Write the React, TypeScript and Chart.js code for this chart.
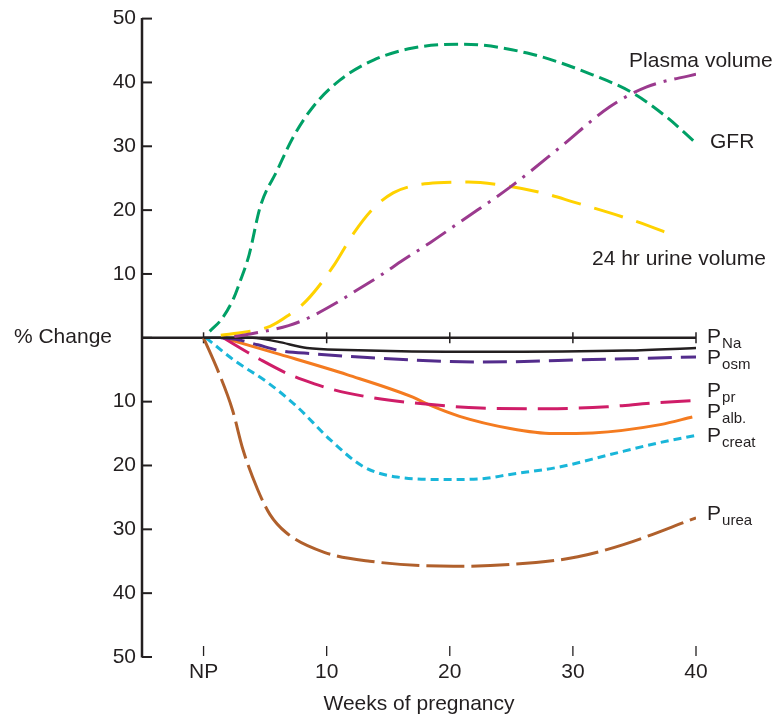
import React, { useEffect, useRef } from 'react';
import { Chart, registerables } from 'chart.js';

Chart.register(...registerables);

// ---- axis ticks ----
const xTickValues = [0, 10, 20, 30, 40];
const xTickLabels = ['NP', '10', '20', '30', '40'];
const yTickValues = [-50, -40, -30, -20, -10, 0, 10, 20, 30, 40, 50];

// ---- series (weeks of pregnancy, % change) ----
const gfrWeeks = [0.5, 1.5, 2.4, 3.0, 3.7, 4.6, 6.0, 7.3, 8.9, 11.1, 13.8, 17.0, 21.0, 26.3, 31.6, 34.9, 37.6, 40];
const gfrValues = [1, 3, 6, 9, 13, 20.5, 26.3, 31.5, 36.2, 40.4, 43.5, 45.4, 46.0, 44.6, 41.2, 38.3, 34.6, 30.5];

const plasmaWeeks = [2.5, 3.8, 6.9, 8.5, 10.9, 12.4, 14.4, 16.0, 18.4, 21.1, 24.9, 29.0, 33.0, 36.0, 40];
const plasmaValues = [0.2, 0.6, 1.9, 3.1, 5.6, 7.4, 9.8, 11.9, 14.9, 18.5, 23.6, 29.9, 36.2, 39.3, 41.3];

const urineWeeks = [1.4, 3.4, 5.4, 6.8, 8.4, 10.5, 12.2, 13.8, 15.4, 17.0, 19.0, 21.5, 24.3, 27.3, 30.0, 35.2, 38.1];
const urineValues = [0.4, 0.9, 1.8, 3.4, 5.9, 11.1, 16.4, 20.3, 22.7, 23.8, 24.3, 24.4, 23.9, 22.8, 21.3, 18.2, 16.1];

const naWeeks = [0, 4.0, 6.0, 8.4, 11.7, 22.5, 34.4, 40];
const naValues = [0, 0, -0.6, -1.6, -1.9, -2.2, -2.0, -1.6];

const osmWeeks = [1.4, 2.8, 4.4, 6.2, 8.9, 13.3, 22.5, 31.6, 40];
const osmValues = [0, -0.3, -1.1, -2.0, -2.5, -3.1, -3.8, -3.4, -3.0];

const prWeeks = [1.6, 3.6, 4.6, 6.8, 8.1, 10.5, 13.8, 17.6, 22.5, 27.9, 32.8, 36.5, 40];
const prValues = [0, -2.3, -3.4, -5.6, -6.6, -8.1, -9.4, -10.3, -11.0, -11.1, -10.8, -10.2, -9.8];

const albWeeks = [1.6, 6.2, 11.7, 17.0, 18.2, 20.8, 24.9, 28.4, 31.6, 37.1, 39.7];
const albValues = [0, -2.6, -5.8, -9.3, -10.4, -12.3, -14.2, -15.0, -14.9, -13.6, -12.4];

const creatWeeks = [0.2, 2.4, 5.2, 7.6, 10.3, 13.0, 15.7, 19.8, 22.5, 24.9, 29.0, 33.0, 37.1, 40];
const creatValues = [0, -3.4, -7.0, -10.8, -16.0, -20.2, -21.8, -22.2, -22.1, -21.4, -20.2, -18.3, -16.4, -15.3];

const ureaWeeks = [0, 1.2, 2.35, 3.2, 4.4, 5.4, 6.7, 9.8, 13.5, 20.3, 27.0, 30.4, 34.1, 40];
const ureaValues = [0, -5.3, -11.3, -17.5, -23.8, -27.7, -30.5, -33.6, -35.0, -35.8, -35.2, -34.3, -32.4, -28.2];

const FONT = '"Liberation Sans", Arial, Helvetica, sans-serif';
const INK = '#231f20';

type S = { name: string; w: number[]; v: number[]; color: string; width: number; dash: number[] };

const series: S[] = [
  { name: 'GFR', w: gfrWeeks, v: gfrValues, color: '#00a066', width: 3, dash: [14, 6] },
  { name: 'Plasma volume', w: plasmaWeeks, v: plasmaValues, color: '#9b3a8e', width: 3, dash: [24, 8, 3, 8] },
  { name: '24 hr urine volume', w: urineWeeks, v: urineValues, color: '#ffd200', width: 3, dash: [30, 14] },
  { name: 'PNa', w: naWeeks, v: naValues, color: INK, width: 2.5, dash: [] },
  { name: 'Posm', w: osmWeeks, v: osmValues, color: '#532c8c', width: 3, dash: [24, 9] },
  { name: 'Ppr', w: prWeeks, v: prValues, color: '#cf1d68', width: 3, dash: [30, 11] },
  { name: 'Palb', w: albWeeks, v: albValues, color: '#f47b20', width: 3, dash: [] },
  { name: 'Pcreat', w: creatWeeks, v: creatValues, color: '#19b6d9', width: 3, dash: [8, 5] },
  { name: 'Purea', w: ureaWeeks, v: ureaValues, color: '#b0602c', width: 3, dash: [38, 7] },
];

// curve labels (anchored in data units)
const curveLabels = [
  { text: 'Plasma volume', week: 34.56, value: 43.3 },
  { text: 'GFR', week: 41.14, value: 30.6 },
  { text: '24 hr urine volume', week: 31.55, value: 12.3 },
];
const pLabels = [
  { sub: 'Na', value: -0.86 },
  { sub: 'osm', value: -4.15 },
  { sub: 'pr', value: -9.3 },
  { sub: 'alb.', value: -12.6 },
  { sub: 'creat', value: -16.35 },
  { sub: 'urea', value: -28.56 },
];
const pLabelWeek = 40.9;

const decor = {
  id: 'decor',
  beforeDatasetsDraw(chart: any) {
    const { ctx, chartArea } = chart;
    const xs = chart.scales.x;
    const ys = chart.scales.y;
    const { left, bottom, top } = chartArea;
    const y0 = ys.getPixelForValue(0);
    ctx.save();
    ctx.strokeStyle = INK;
    ctx.lineCap = 'butt';
    // y axis line
    ctx.lineWidth = 2.5;
    ctx.beginPath();
    ctx.moveTo(left, top - 0.5);
    ctx.lineTo(left, bottom + 0.5);
    ctx.stroke();
    // y ticks (inside)
    ctx.lineWidth = 2;
    yTickValues.forEach((v) => {
      const y = ys.getPixelForValue(v);
      ctx.beginPath();
      ctx.moveTo(left, y);
      ctx.lineTo(left + 10, y);
      ctx.stroke();
    });
    // zero line
    ctx.lineWidth = 2.5;
    ctx.beginPath();
    ctx.moveTo(left, y0);
    ctx.lineTo(xs.getPixelForValue(40), y0);
    ctx.stroke();
    // ticks on zero line and bottom ticks
    xTickValues.forEach((v) => {
      const x = xs.getPixelForValue(v);
      ctx.lineWidth = 1.5;
      ctx.beginPath();
      ctx.moveTo(x, y0 - 5.5);
      ctx.lineTo(x, y0 + 5.5);
      ctx.stroke();
      ctx.lineWidth = 1.3;
      ctx.beginPath();
      ctx.moveTo(x, bottom - 11);
      ctx.lineTo(x, bottom - 1);
      ctx.stroke();
    });
    // % Change
    ctx.fillStyle = INK;
    ctx.font = `21px ${FONT}`;
    ctx.textAlign = 'right';
    ctx.textBaseline = 'middle';
    ctx.fillText('% Change', 112, y0 - 1);
    ctx.restore();
  },
  afterDatasetsDraw(chart: any) {
    const { ctx } = chart;
    const xs = chart.scales.x;
    const ys = chart.scales.y;
    ctx.save();
    ctx.fillStyle = INK;
    ctx.textAlign = 'left';
    ctx.textBaseline = 'middle';
    ctx.font = `21px ${FONT}`;
    curveLabels.forEach((l) => {
      ctx.fillText(l.text, xs.getPixelForValue(l.week), ys.getPixelForValue(l.value));
    });
    ctx.textBaseline = 'alphabetic';
    const px = xs.getPixelForValue(pLabelWeek);
    pLabels.forEach((l) => {
      const by = ys.getPixelForValue(l.value);
      ctx.font = `21px ${FONT}`;
      ctx.fillText('P', px, by);
      const pw = ctx.measureText('P').width;
      ctx.font = `15px ${FONT}`;
      ctx.fillText(l.sub, px + pw + 1, by + 5);
    });
    ctx.restore();
  },
};

export default function App() {
  const ref = useRef<HTMLCanvasElement>(null);
  useEffect(() => {
    const canvas = ref.current;
    if (!canvas) return;
    const chart = new Chart(canvas, {
      type: 'line',
      data: {
        datasets: series.map((s) => ({
          label: s.name,
          data: s.w.map((x, i) => ({ x, y: s.v[i] })),
          borderColor: s.color,
          borderWidth: s.width,
          borderDash: s.dash,
          borderCapStyle: 'butt',
          pointRadius: 0,
          fill: false,
          cubicInterpolationMode: 'monotone',
        })),
      } as any,
      options: {
        animation: false,
        responsive: false,
        devicePixelRatio: 1,
        layout: { padding: { top: 18, right: 78, bottom: 0, left: 0 } },
        plugins: { legend: { display: false }, tooltip: { enabled: false }, title: { display: false } },
        scales: {
          x: {
            type: 'linear',
            min: -5,
            max: 40,
            afterBuildTicks: (s: any) => {
              s.ticks = xTickValues.map((value) => ({ value }));
            },
            afterFit: (s: any) => {
              s.height = 60;
            },
            grid: { display: false, drawTicks: false },
            border: { display: false },
            ticks: {
              padding: 3,
              color: INK,
              font: { family: FONT, size: 21 },
              maxRotation: 0,
              autoSkip: false,
              callback: (v: any) => {
                const i = xTickValues.indexOf(Number(v));
                return i >= 0 ? xTickLabels[i] : '';
              },
            },
            title: {
              display: true,
              text: 'Weeks of pregnancy',
              color: INK,
              font: { family: FONT, size: 21 },
              padding: { top: 0, bottom: 0 },
            },
          },
          y: {
            type: 'linear',
            min: -50,
            max: 50,
            afterBuildTicks: (s: any) => {
              s.ticks = yTickValues.map((value) => ({ value }));
            },
            afterFit: (s: any) => {
              s.width = 142;
            },
            grid: { display: false, drawTicks: false },
            border: { display: false },
            ticks: {
              padding: 6,
              color: INK,
              font: { family: FONT, size: 21 },
              autoSkip: false,
              callback: (v: any) => (Number(v) === 0 ? '' : String(Math.abs(Number(v)))),
            },
          },
        },
      } as any,
      plugins: [decor],
    });
    return () => chart.destroy();
  }, []);
  return (
    <div style={{ position: 'absolute', left: 0, top: 0, width: 774, height: 717, background: '#fff' }}>
      <canvas ref={ref} width={774} height={717} style={{ display: 'block', width: 774, height: 717 }} />
    </div>
  );
}
